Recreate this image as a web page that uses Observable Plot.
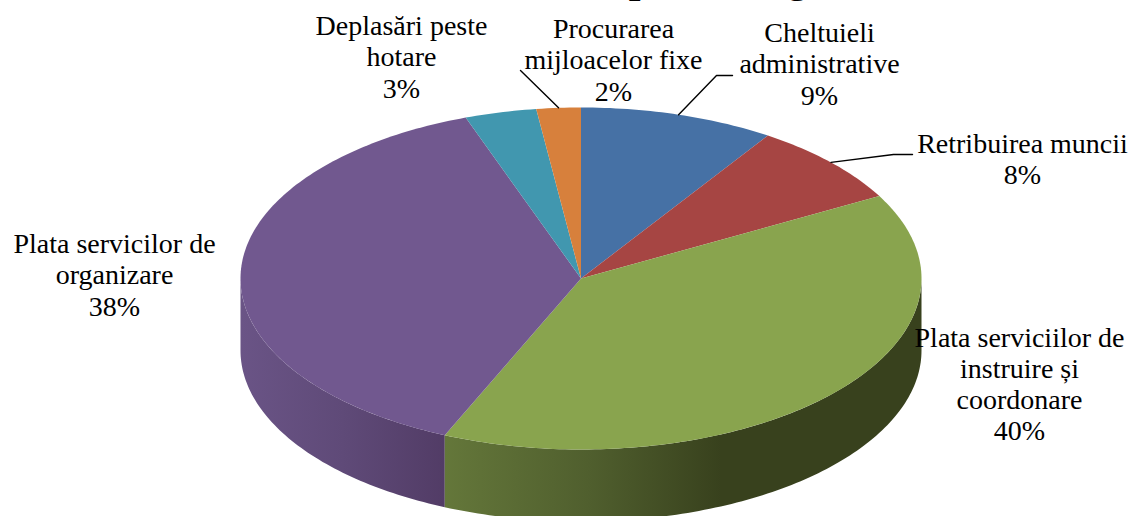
<!DOCTYPE html>
<html>
<head>
<meta charset="utf-8">
<style>html,body{margin:0;padding:0;background:#fff;overflow:hidden}svg{display:block}</style>
<script src="https://cdn.jsdelivr.net/npm/d3@7"></script>
<script src="https://cdn.jsdelivr.net/npm/@observablehq/plot@0.6"></script>
</head>
<body>
<script>
// Data (clockwise from 12 o'clock)
const categories = ["Cheltuieli\nadministrative","Retribuirea muncii","Plata serviciilor de\ninstruire și\ncoordonare","Plata servicilor de\norganizare","Deplasări peste\nhotare","Procurarea\nmijloacelor fixe"];
const values = [9.25, 7.75, 39.55, 37.95, 3.4, 2.1];
const percentLabels = ["9%","8%","40%","38%","3%","2%"];
// The title is cut off by the top edge: only the feet of these two letters show
const titleLetters = ["p","g"];

// Style and layout
const topColors = ["#4671A5","#A64543","#89A44E","#71588F","#4197AF","#D7803C"];
const labelSpots = [[819,63],[1022,158],[1019,383],[114,274],[401,56],[613,59]];
const titleSpots = [[640,-9],[797,-9]];
const leaderBends = {0:[[716,75],[732,75]],1:[[893,154],[912,154]],5:[[520,70]]};
const pie = {cx:580.5, cy:278, rx:340.5, ry:171, depth:72};
const fontFamily = "'Liberation Serif', serif";

const total = d3.sum(values);
const stops = d3.cumsum(values).map(v => v / total * 360);
const slices = values.map((v,i) => ({i, start:i ? stops[i-1] : 0, end:stops[i], color:topColors[i]}));
const rim = (deg, drop=0) => {
  const a = deg * Math.PI / 180;
  return {x: pie.cx + pie.rx * Math.sin(a), y: pie.cy - pie.ry * Math.cos(a) + drop};
};
const arc = (a, b, drop=0) => d3.range(0, 1.0001, 1 / Math.max(2, Math.ceil(Math.abs(b - a)))).map(t => rim(a + (b - a) * t, drop));

// Visible outer wall: only the part of the rim facing the viewer (90deg to 270deg)
const wall = (a, b) => [...arc(a, b), ...arc(b, a, pie.depth)];
const wallGreen = wall(Math.max(slices[2].start, 90), slices[2].end);
const wallPurple = wall(slices[3].start, 270);

function gradient(id, list) {
  const ns = "http://www.w3.org/2000/svg";
  const g = document.createElementNS(ns, "linearGradient");
  g.setAttribute("id", id);
  for (const [o, c] of list) {
    const s = document.createElementNS(ns, "stop");
    s.setAttribute("offset", o);
    s.setAttribute("stop-color", c);
    g.appendChild(s);
  }
  return g;
}
const defs = () => {
  const d = document.createElementNS("http://www.w3.org/2000/svg", "defs");
  d.appendChild(gradient("wallGreen", [[0,"#64773A"],[0.3,"#505F2E"],[0.58,"#38411D"],[1,"#38411D"]]));
  d.appendChild(gradient("wallPurple", [[0,"#6A5486"],[0.5,"#5F4A78"],[1,"#523C66"]]));
  return d;
};

const wedge = s => [{x:pie.cx, y:pie.cy}, ...arc(s.start, s.end)];
const lineOpts = fill => ({x:"x", y:"y", fill, stroke:"none", curve:"linear"});

const leaders = Object.entries(leaderBends).map(([k, bends]) => {
  const s = slices[+k];
  return [rim((s.start + s.end) / 2), ...bends.map(([x, y]) => ({x, y}))];
});

const labelRows = categories.map((c, i) => ({text:`${c}\n${percentLabels[i]}`, x:labelSpots[i][0], y:labelSpots[i][1]}));
const titleRows = titleLetters.map((text, i) => ({text, x:titleSpots[i][0], y:titleSpots[i][1]}));

const chart = Plot.plot({
  width:1132, height:516, margin:0,
  x:{domain:[0,1132], range:[0,1132], axis:null},
  y:{domain:[0,516], range:[0,516], axis:null},
  style:{background:"#fff"},
  marks:[
    defs,
    Plot.text(titleRows, {x:"x", y:"y", text:"text", fontSize:42, fontWeight:"bold", fontFamily, fill:"#000", textAnchor:"middle", lineAnchor:"bottom"}),
    Plot.line(wallPurple, lineOpts("url(#wallPurple)")),
    Plot.line(wallGreen, lineOpts("url(#wallGreen)")),
    ...slices.map(s => Plot.line(wedge(s), lineOpts(s.color))),
    ...leaders.map(l => Plot.line(l, {x:"x", y:"y", stroke:"#000", strokeWidth:1.4, curve:"linear"})),
    Plot.text(labelRows, {x:"x", y:"y", text:"text", fontSize:28, lineHeight:1.11, fontFamily, fill:"#000", textAnchor:"middle"})
  ]
});
document.body.appendChild(chart);
</script>
</body>
</html>
